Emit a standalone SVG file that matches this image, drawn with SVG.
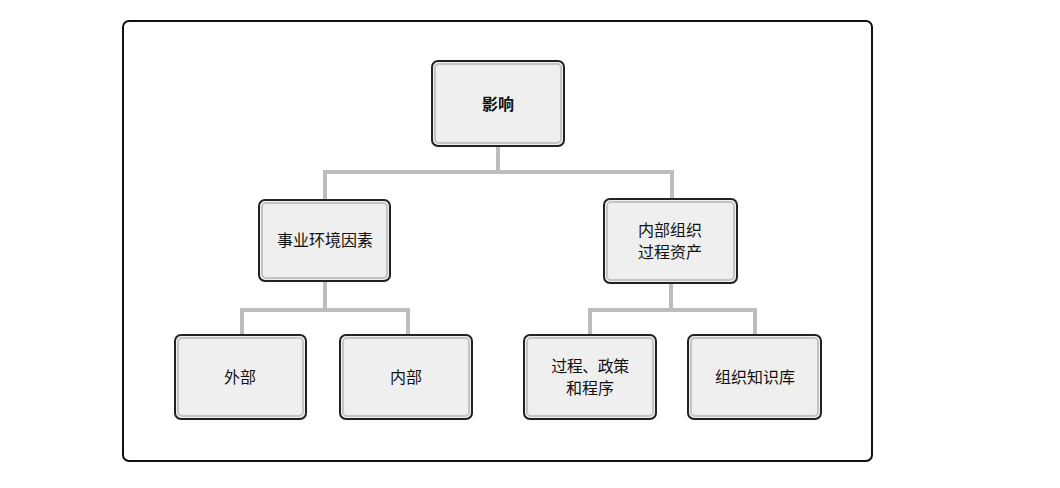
<svg xmlns="http://www.w3.org/2000/svg" width="1060" height="488" viewBox="0 0 1060 488">
<style>
.n{fill:#efefef;stroke:#222;stroke-width:2}
.i{fill:none;stroke:#c4c4c4;stroke-width:2}
.t{font-family:"Noto Sans CJK SC",sans-serif;font-size:16px;fill:#111;text-anchor:middle}
.c{fill:none;stroke:#bdbdbd;stroke-width:4}
</style>
<rect x="123" y="21" width="749" height="440" rx="6" fill="#fff" stroke="#111" stroke-width="2"/>
<g id="connectors">
<path class="c" d="M498 147V172M325 200V172H672V199M325 281V310M242 335V310H408V335M671 283V310M590 335V310H755V335"/>
</g>
<g id="n1"><rect class="n" x="432" y="61" width="132" height="85" rx="6"/><rect class="i" x="435" y="64" width="126" height="79" rx="4"/><text class="t" x="498" y="110" font-weight="bold" font-size="18">影响</text></g>
<g id="n2"><rect class="n" x="259" y="200" width="131" height="81" rx="6"/><rect class="i" x="262" y="203" width="125" height="75" rx="4"/><text class="t" x="325" y="246">事业环境因素</text></g>
<g id="n3"><rect class="n" x="604" y="199" width="133" height="84" rx="6"/><rect class="i" x="607" y="202" width="127" height="78" rx="4"/><text class="t" x="670" y="236">内部组织</text><text class="t" x="670" y="258">过程资产</text></g>
<g id="n4"><rect class="n" x="175" y="335" width="131" height="84" rx="6"/><rect class="i" x="178" y="338" width="125" height="78" rx="4"/><text class="t" x="240" y="383">外部</text></g>
<g id="n5"><rect class="n" x="340" y="335" width="132" height="84" rx="6"/><rect class="i" x="343" y="338" width="126" height="78" rx="4"/><text class="t" x="406" y="383">内部</text></g>
<g id="n6"><rect class="n" x="524" y="335" width="132" height="84" rx="6"/><rect class="i" x="527" y="338" width="126" height="78" rx="4"/><text class="t" x="590" y="372" letter-spacing="-0.5">过程、政策</text><text class="t" x="590" y="394">和程序</text></g>
<g id="n7"><rect class="n" x="688" y="335" width="133" height="84" rx="6"/><rect class="i" x="691" y="338" width="127" height="78" rx="4"/><text class="t" x="755" y="383">组织知识库</text></g>
</svg>
